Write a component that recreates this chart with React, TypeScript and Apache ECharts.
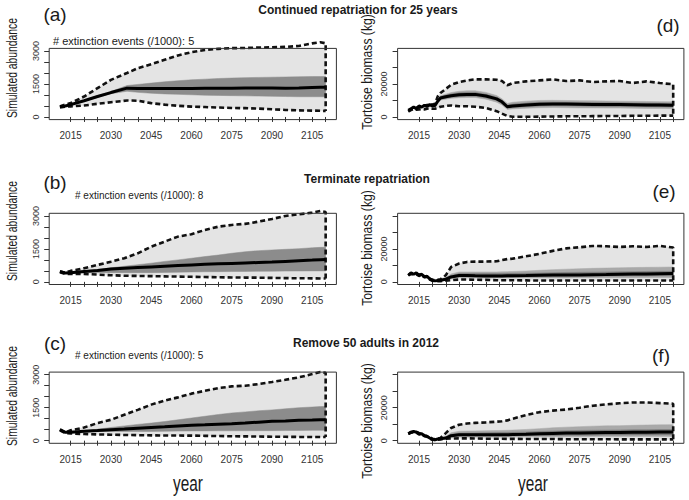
import React, { useEffect, useRef } from "react";
import * as echarts from "echarts";

// ---------- tick values / labels ----------
const X_TICKS = [2015, 2020, 2025, 2030, 2035, 2040, 2045, 2050, 2055, 2060, 2065, 2070, 2075, 2080, 2085, 2090, 2095, 2100, 2105, 2110];
const X_LABELS = [2015, 2030, 2045, 2060, 2075, 2090, 2105];
const Y_TICKS_L = [0, 500, 1000, 1500, 2000, 2500, 3000];
const Y_LABELS_L = [0, 1500, 3000];
const Y_TICKS_R = [0, 10000, 20000, 30000, 40000];
const Y_LABELS_R = [0, 20000];

// ---------- left column: simulated abundance ----------
const YEARS_A = [2011, 2013, 2015, 2020, 2025, 2030, 2036, 2040, 2045, 2050, 2055, 2060, 2065, 2070, 2075, 2080, 2085, 2090, 2095, 2100, 2105, 2108, 2110];
const MED_A = [480, 500, 560, 740, 930, 1110, 1310, 1300, 1290, 1290, 1300, 1300, 1310, 1310, 1310, 1320, 1320, 1320, 1310, 1320, 1340, 1350, 1350];
const IN_HI_A = [480, 510, 580, 770, 970, 1160, 1430, 1480, 1540, 1600, 1650, 1690, 1720, 1750, 1770, 1790, 1800, 1810, 1820, 1830, 1840, 1840, 1840];
const IN_LO_A = [470, 490, 540, 710, 890, 1060, 1170, 1120, 1080, 1050, 1030, 1010, 990, 980, 970, 960, 950, 940, 930, 920, 920, 920, 920];
const OUT_HI_A = [480, 560, 630, 930, 1310, 1690, 2000, 2220, 2400, 2600, 2800, 2950, 3050, 3100, 3130, 3140, 3160, 3170, 3190, 3230, 3350, 3400, 3350];
const OUT_LO_A = [430, 470, 480, 520, 600, 670, 750, 740, 630, 560, 510, 470, 450, 430, 410, 400, 380, 350, 320, 300, 290, 280, 270];

const YEARS_BC = [2011, 2013, 2015, 2020, 2025, 2030, 2035, 2040, 2045, 2050, 2055, 2060, 2065, 2070, 2075, 2080, 2085, 2090, 2095, 2100, 2105, 2108, 2110];
const MED_B = [470, 400, 420, 470, 520, 580, 620, 650, 680, 710, 740, 770, 800, 820, 840, 860, 880, 900, 930, 960, 990, 1010, 1020];
const IN_HI_B = [470, 410, 440, 500, 560, 640, 710, 780, 850, 930, 1000, 1075, 1150, 1220, 1300, 1370, 1420, 1450, 1480, 1510, 1550, 1570, 1575];
const IN_LO_B = [470, 390, 400, 440, 430, 420, 420, 420, 420, 430, 440, 450, 460, 465, 470, 475, 480, 485, 490, 495, 500, 500, 500];
const OUT_HI_B = [470, 420, 500, 620, 770, 920, 1075, 1300, 1600, 1830, 2060, 2170, 2360, 2510, 2590, 2640, 2740, 2860, 3000, 3075, 3150, 3230, 3180];
const OUT_LO_B = [440, 360, 360, 360, 330, 300, 280, 270, 260, 250, 240, 230, 220, 210, 200, 195, 190, 180, 170, 165, 160, 155, 150];

const MED_C = [500, 380, 380, 425, 460, 500, 530, 570, 600, 630, 670, 700, 720, 745, 770, 800, 840, 880, 900, 925, 940, 950, 955];
const IN_HI_C = [500, 390, 400, 440, 520, 600, 670, 740, 800, 870, 950, 1030, 1110, 1190, 1260, 1310, 1360, 1400, 1450, 1500, 1530, 1550, 1560];
const IN_LO_C = [500, 370, 370, 410, 415, 420, 420, 420, 420, 425, 435, 440, 445, 450, 450, 452, 455, 455, 460, 465, 470, 470, 470];
const OUT_HI_C = [500, 380, 470, 600, 800, 950, 1180, 1400, 1640, 1820, 1970, 2140, 2270, 2390, 2470, 2500, 2575, 2670, 2770, 2880, 3030, 3120, 3090];
const OUT_LO_C = [470, 340, 330, 300, 285, 270, 260, 250, 240, 235, 232, 230, 220, 210, 200, 195, 190, 180, 175, 170, 168, 166, 165];

// ---------- right column: tortoise biomass (kg) ----------
const YEARS_R = [2011, 2012, 2013, 2014, 2015, 2016, 2017, 2018, 2019, 2020, 2021, 2022, 2023, 2025, 2027, 2030, 2033, 2036, 2040, 2044, 2046, 2048, 2050, 2055, 2060, 2065, 2070, 2075, 2080, 2085, 2090, 2095, 2100, 2105, 2110];

const MED_D = [4000, 5000, 6000, 5000, 6700, 6000, 7000, 6500, 7500, 6700, 7000, 9500, 11500, 12300, 12900, 13500, 13700, 13700, 12700, 11000, 9200, 6200, 6700, 7300, 7700, 7900, 7800, 7700, 7600, 7500, 7500, 7400, 7300, 7200, 7100];
const IN_HI_D = [4000, 5000, 6000, 5000, 6700, 6000, 7000, 6500, 7500, 6700, 7000, 10000, 12300, 13200, 14000, 14700, 14900, 14900, 13800, 12000, 10200, 7200, 7800, 8400, 8900, 9000, 8900, 8800, 8700, 8600, 8600, 8500, 8400, 8300, 8200];
const IN_LO_D = [4000, 5000, 6000, 5000, 6700, 6000, 7000, 6500, 7500, 6700, 7000, 9000, 10800, 11400, 11900, 12400, 12600, 12600, 11600, 10000, 8200, 5300, 5700, 6200, 6600, 6800, 6700, 6600, 6500, 6400, 6400, 6300, 6200, 6100, 6000];
const MID_HI_D = [4000, 5000, 6000, 5000, 6700, 6000, 7000, 6500, 7500, 6700, 7000, 10500, 12800, 13800, 14800, 15600, 15900, 15900, 14900, 13000, 11000, 8200, 8900, 9600, 10000, 10100, 10000, 9900, 9800, 9700, 9600, 9500, 9400, 9300, 9200];
const MID_LO_D = [4000, 5000, 6000, 5000, 6700, 6000, 7000, 6500, 7500, 6700, 7000, 8600, 10300, 10800, 11300, 11700, 11800, 11800, 10800, 9000, 7300, 4600, 4900, 5300, 5600, 5700, 5600, 5500, 5500, 5400, 5400, 5300, 5200, 5100, 5000];
const OUT_HI_D = [3400, 4500, 5200, 5500, 6200, 6500, 7000, 7300, 7500, 7600, 8000, 12500, 14500, 17000, 19500, 21200, 22200, 22800, 22800, 22600, 21800, 19200, 20600, 21600, 22200, 22800, 21800, 22200, 21200, 21600, 21800, 20600, 21600, 20600, 19800];
const OUT_LO_D = [3400, 4200, 4800, 4400, 4600, 4800, 4600, 5000, 5200, 5000, 5000, 5500, 6200, 6700, 7000, 6500, 6500, 6200, 5500, 3500, 2000, 600, 100, 100, 200, 300, 400, 400, 500, 600, 600, 700, 700, 800, 800];

const MED_E = [4000, 5500, 4600, 5500, 4000, 4600, 3000, 3400, 1800, 1000, 600, 800, 1000, 1600, 3000, 3800, 3800, 3700, 3600, 3600, 3600, 3700, 3700, 3800, 4000, 4100, 4200, 4200, 4300, 4400, 4600, 4700, 4800, 4900, 5000];
const IN_HI_E = [4000, 5500, 4600, 5500, 4000, 4600, 3000, 3400, 1800, 1000, 600, 800, 1000, 1900, 3800, 5000, 5000, 5000, 5000, 5000, 5100, 5200, 5200, 5300, 5400, 5500, 5700, 5800, 5900, 6000, 6100, 6200, 6300, 6400, 6400];
const IN_LO_E = [4000, 5500, 4600, 5500, 4000, 4600, 3000, 3400, 1800, 1000, 600, 800, 1000, 1300, 2500, 3200, 3200, 3200, 3200, 3200, 3200, 3200, 3200, 3300, 3400, 3400, 3500, 3500, 3500, 3600, 3600, 3700, 3700, 3800, 3800];
const MID_HI_E = [4000, 5500, 4600, 5500, 4000, 4600, 3000, 3400, 1800, 1000, 600, 800, 1000, 2500, 4800, 6000, 6000, 6000, 6000, 6000, 6100, 6200, 6300, 6600, 7000, 7400, 7700, 8000, 8200, 8400, 8500, 8700, 8800, 8900, 9000];
const MID_LO_E = [4000, 5500, 4600, 5500, 4000, 4600, 3000, 3400, 1800, 1000, 600, 800, 1000, 900, 2000, 2600, 2500, 2400, 2400, 2400, 2400, 2400, 2400, 2400, 2400, 2400, 2400, 2500, 2500, 2500, 2500, 2500, 2600, 2600, 2600];
const OUT_HI_E = [4000, 5200, 5000, 5000, 4200, 4600, 3200, 3400, 2000, 1200, 1000, 1200, 1600, 4000, 9000, 11100, 12100, 12300, 12300, 12500, 13200, 13800, 14100, 15500, 17000, 18800, 20300, 21000, 21800, 21600, 21200, 21600, 21200, 21800, 20800];
const OUT_LO_E = [4000, 4800, 4300, 4600, 3600, 4000, 2800, 3000, 1400, 700, 400, 400, 400, 700, 1000, 1400, 1400, 1300, 1200, 1000, 1000, 1000, 1000, 900, 800, 800, 800, 800, 800, 800, 800, 800, 800, 800, 800];

const MED_F = [4200, 5200, 5600, 5200, 4200, 4200, 3000, 2600, 1600, 800, 600, 1000, 1200, 1600, 3000, 3600, 3600, 3600, 3600, 3600, 3600, 3600, 3700, 3900, 4200, 4400, 4600, 4600, 4800, 4900, 5000, 5100, 5100, 5200, 5200];
const IN_HI_F = [4200, 5200, 5600, 5200, 4200, 4200, 3000, 2600, 1600, 800, 600, 1000, 1200, 2000, 3800, 4600, 4700, 4700, 4800, 4900, 5000, 5000, 5100, 5300, 5600, 5800, 6000, 6200, 6300, 6400, 6500, 6600, 6600, 6700, 6700];
const IN_LO_F = [4200, 5200, 5600, 5200, 4200, 4200, 3000, 2600, 1600, 800, 600, 1000, 1200, 1200, 2400, 3000, 3000, 3000, 3000, 3000, 3000, 3000, 3000, 3100, 3200, 3200, 3300, 3300, 3300, 3400, 3400, 3500, 3500, 3600, 3600];
const MID_HI_F = [4200, 5200, 5600, 5200, 4200, 4200, 3000, 2600, 1600, 800, 600, 1000, 1200, 2600, 4800, 5700, 5800, 5900, 6000, 6100, 6200, 6300, 6400, 6800, 7300, 7800, 8200, 8500, 8800, 9000, 9100, 9300, 9500, 9600, 9700];
const MID_LO_F = [4200, 5200, 5600, 5200, 4200, 4200, 3000, 2600, 1600, 800, 600, 1000, 1200, 900, 1800, 2200, 2200, 2200, 2200, 2200, 2200, 2300, 2300, 2300, 2400, 2400, 2400, 2400, 2500, 2500, 2500, 2500, 2600, 2600, 2600];
const OUT_HI_F = [4200, 5000, 5600, 5200, 4600, 4200, 3200, 2800, 2000, 1200, 800, 1200, 1600, 4600, 7700, 9700, 10400, 10800, 11100, 11500, 11800, 12300, 13300, 15500, 17300, 18200, 18900, 20000, 21200, 22000, 22700, 23200, 23200, 22800, 22400];
const OUT_LO_F = [4200, 4800, 5200, 4800, 3800, 4000, 2800, 2400, 1200, 600, 400, 600, 800, 1200, 1300, 1400, 1400, 1300, 1200, 1200, 1200, 1100, 1100, 1000, 1000, 1000, 900, 900, 900, 900, 800, 800, 800, 800, 800];

// ---------- texts ----------
const TITLES = ["Continued repatriation for 25 years", "Terminate repatriation", "Remove 50 adults in 2012"];
const EXTINCTIONS = ["# extinction events (/1000): 5", "# extinction events (/1000): 8", "# extinction events (/1000): 5"];
const LETTERS = ["(a)", "(b)", "(c)", "(d)", "(e)", "(f)"];

const FONT = '"Liberation Sans", Arial, Helvetica, sans-serif';
const LIGHT = "#e4e4e4";
const DARK = "#8c8c8c";
const MID = "#a9a9a9";
const INNER = "#7a7a7a";

type Panel = {
  years: number[];
  med: number[];
  inHi: number[];
  inLo: number[];
  midHi?: number[];
  midLo?: number[];
  outHi: number[];
  outLo: number[];
  right: boolean;
};

const PANELS: Panel[] = [
  { years: YEARS_A, med: MED_A, inHi: IN_HI_A, inLo: IN_LO_A, outHi: OUT_HI_A, outLo: OUT_LO_A, right: false },
  { years: YEARS_BC, med: MED_B, inHi: IN_HI_B, inLo: IN_LO_B, outHi: OUT_HI_B, outLo: OUT_LO_B, right: false },
  { years: YEARS_BC, med: MED_C, inHi: IN_HI_C, inLo: IN_LO_C, outHi: OUT_HI_C, outLo: OUT_LO_C, right: false },
  { years: YEARS_R, med: MED_D, inHi: IN_HI_D, inLo: IN_LO_D, midHi: MID_HI_D, midLo: MID_LO_D, outHi: OUT_HI_D, outLo: OUT_LO_D, right: true },
  { years: YEARS_R, med: MED_E, inHi: IN_HI_E, inLo: IN_LO_E, midHi: MID_HI_E, midLo: MID_LO_E, outHi: OUT_HI_E, outLo: OUT_LO_E, right: true },
  { years: YEARS_R, med: MED_F, inHi: IN_HI_F, inLo: IN_LO_F, midHi: MID_HI_F, midLo: MID_LO_F, outHi: OUT_HI_F, outLo: OUT_LO_F, right: true },
];

const ROW_TOPS = [48.4, 213.3, 372.1];
const ROW_H = 71.2;

// a filled band between two quantile curves, drawn through the axes' scales
function band(idx: number, years: number[], lo: number[], hi: number[], color: string, z: number) {
  return {
    type: "custom",
    xAxisIndex: idx,
    yAxisIndex: idx,
    silent: true,
    z,
    data: years.map((y, i) => [y, lo[i], hi[i]]),
    encode: { x: 0, y: [1, 2] },
    renderItem: (params: any, api: any) => {
      if (params.dataIndex !== 0) return null;
      const upper = years.map((y, i) => api.coord([y, hi[i]]));
      const lower = years.map((y, i) => api.coord([y, lo[i]])).reverse();
      const cs = params.coordSys;
      return {
        type: "polygon",
        shape: { points: upper.concat(lower) },
        style: { fill: color, stroke: color, lineWidth: 0.5 },
        clipPath: { type: "rect", shape: { x: cs.x, y: cs.y, width: cs.width, height: cs.height } },
      };
    },
  };
}

function buildOption() {
  const grids: any[] = [];
  const xAxes: any[] = [];
  const yAxes: any[] = [];
  const series: any[] = [];
  const fmt = (v: number) => String(v);

  PANELS.forEach((p, idx) => {
    const row = idx % 3;
    grids.push({
      left: p.right ? 397.6 : 49.2,
      width: p.right ? 286.3 : 287.2,
      top: ROW_TOPS[row],
      height: ROW_H,
      show: true,
      borderColor: "#333",
      borderWidth: 1,
      backgroundColor: "transparent",
      z: 10,
    });
    xAxes.push({
      type: "value",
      gridIndex: idx,
      min: 2007,
      max: 2114,
      axisLine: { show: false },
      splitLine: { show: false },
      axisTick: { show: true, length: 5, customValues: X_TICKS, lineStyle: { color: "#333", width: 1 } },
      axisLabel: { customValues: X_LABELS, formatter: fmt, fontSize: 10, color: "#333", margin: 11, fontFamily: FONT },
    });
    yAxes.push({
      type: "value",
      gridIndex: idx,
      min: p.right ? -1600 : -120,
      max: p.right ? 41600 : 3120,
      axisLine: { show: false },
      splitLine: { show: false },
      axisTick: { show: true, length: 5, customValues: p.right ? Y_TICKS_R : Y_TICKS_L, lineStyle: { color: "#333", width: 1 } },
      axisLabel: {
        customValues: p.right ? Y_LABELS_R : Y_LABELS_L,
        formatter: fmt,
        rotate: 90,
        fontSize: 9,
        color: "#333",
        margin: 9,
        fontFamily: FONT,
      },
    });

    series.push(band(idx, p.years, p.outLo, p.outHi, LIGHT, 1));
    if (p.midHi && p.midLo) {
      series.push(band(idx, p.years, p.midLo, p.midHi, MID, 2));
      series.push(band(idx, p.years, p.inLo, p.inHi, INNER, 3));
    } else {
      series.push(band(idx, p.years, p.inLo, p.inHi, DARK, 3));
    }
    const last = p.years.length - 1;
    const dash = { type: [5, 3], width: 2.6, color: "#111" };
    series.push({
      type: "line",
      xAxisIndex: idx,
      yAxisIndex: idx,
      symbol: "none",
      clip: false,
      silent: true,
      z: 5,
      lineStyle: dash,
      data: [...p.years.map((y, i) => [y, p.outHi[i]]), [p.years[last], p.outLo[last]]],
    });
    series.push({
      type: "line",
      xAxisIndex: idx,
      yAxisIndex: idx,
      symbol: "none",
      clip: false,
      silent: true,
      z: 5,
      lineStyle: dash,
      data: p.years.map((y, i) => [y, p.outLo[i]]),
    });
    series.push({
      type: "line",
      xAxisIndex: idx,
      yAxisIndex: idx,
      symbol: "none",
      silent: true,
      z: 6,
      lineStyle: { width: 3, color: "#000" },
      data: p.years.map((y, i) => [y, p.med[i]]),
    });
  });

  const t = (text: string, x: number, y: number, extra: any = {}, style: any = {}) => ({
    type: "text",
    x,
    y,
    z: 100,
    ...extra,
    style: {
      text,
      fontFamily: FONT,
      fill: "#1a1a1a",
      align: "center",
      verticalAlign: "middle",
      ...style,
    },
  });

  const graphic: any[] = [
    t(TITLES[0], 358, 9.5, {}, { fontSize: 12, fontWeight: "bold" }),
    t(TITLES[1], 367, 178.5, {}, { fontSize: 12, fontWeight: "bold" }),
    t(TITLES[2], 366, 342.5, {}, { fontSize: 12, fontWeight: "bold" }),
    t(LETTERS[0], 55, 14, {}, { fontSize: 19 }),
    t(LETTERS[1], 55, 182, {}, { fontSize: 19 }),
    t(LETTERS[2], 55, 343, {}, { fontSize: 19 }),
    t(LETTERS[3], 668, 25, {}, { fontSize: 19 }),
    t(LETTERS[4], 664, 191, {}, { fontSize: 19 }),
    t(LETTERS[5], 661, 355, {}, { fontSize: 19 }),
    t(EXTINCTIONS[0], 53, 41, {}, { fontSize: 11, align: "left" }),
    t(EXTINCTIONS[1], 75, 195, {}, { fontSize: 10, align: "left" }),
    t(EXTINCTIONS[2], 75, 355, {}, { fontSize: 10, align: "left" }),
    t("Simulated abundance", 12.5, 68, { rotation: Math.PI / 2, scaleX: 0.74 }, { fontSize: 14 }),
    t("Simulated abundance", 12.5, 231, { rotation: Math.PI / 2, scaleX: 0.74 }, { fontSize: 14 }),
    t("Simulated abundance", 12.5, 396, { rotation: Math.PI / 2, scaleX: 0.74 }, { fontSize: 14 }),
    t("Tortoise biomass (kg)", 367, 72, { rotation: Math.PI / 2, scaleX: 0.87 }, { fontSize: 14 }),
    t("Tortoise biomass (kg)", 367, 248, { rotation: Math.PI / 2, scaleX: 0.87 }, { fontSize: 14 }),
    t("Tortoise biomass (kg)", 367, 421, { rotation: Math.PI / 2, scaleX: 0.87 }, { fontSize: 14 }),
    t("year", 188, 483, { scaleX: 0.7 }, { fontSize: 22 }),
    t("year", 533, 483, { scaleX: 0.7 }, { fontSize: 22 }),
  ];

  return {
    animation: false,
    backgroundColor: "#ffffff",
    grid: grids,
    xAxis: xAxes,
    yAxis: yAxes,
    series,
    graphic,
  };
}

export default function App() {
  const ref = useRef<HTMLDivElement>(null);
  useEffect(() => {
    document.body.style.margin = "0";
    if (!ref.current) return;
    const chart = echarts.init(ref.current, undefined, { renderer: "svg" });
    chart.setOption(buildOption() as any);
    return () => chart.dispose();
  }, []);
  return <div ref={ref} style={{ width: 689, height: 500, position: "absolute", left: 0, top: 0 }} />;
}
